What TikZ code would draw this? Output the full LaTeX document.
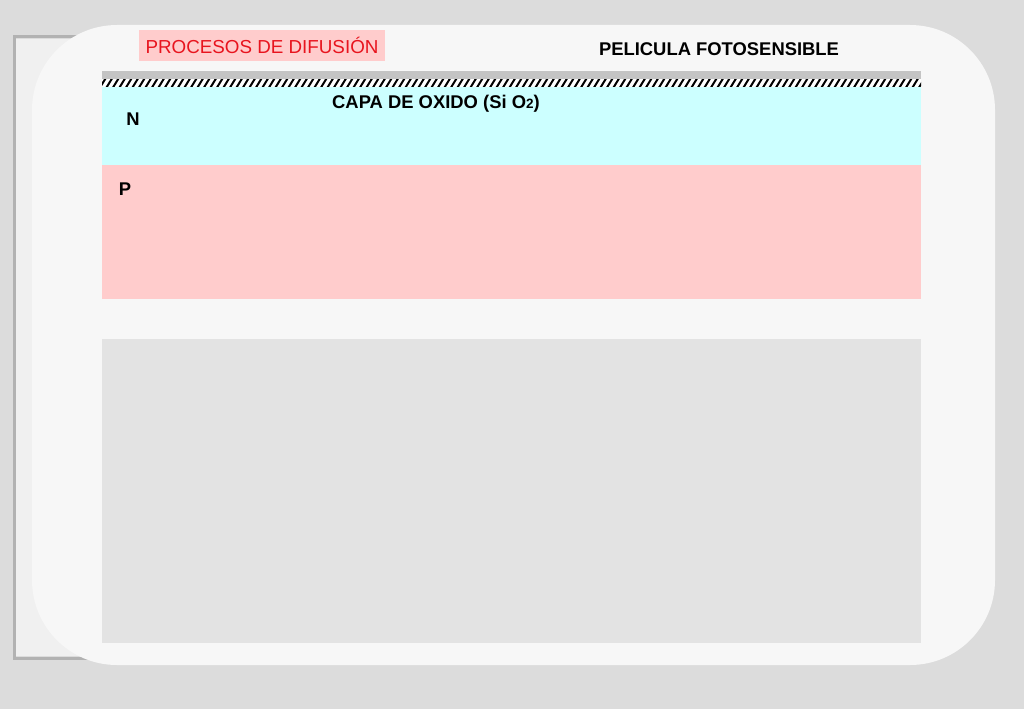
\documentclass[tikz,border=0pt]{standalone}
\usepackage{fontspec}
\setmainfont{Liberation Sans}
\definecolor{bgc}{HTML}{DCDCDC}
\definecolor{panel}{HTML}{F7F7F7}
\definecolor{cyanl}{HTML}{CCFFFF}
\definecolor{pinkl}{HTML}{FFCCCC}
\definecolor{greyl}{HTML}{E3E3E3}
\definecolor{filmg}{HTML}{C4C4C4}
\definecolor{redt}{HTML}{E8141E}
\tikzset{
  lbl/.style={font=\fontsize{18.4}{20}\selectfont\bfseries, inner sep=0pt},
}
\begin{document}
\begin{tikzpicture}[x=1pt,y=-1pt]
\useasboundingbox (0,0) rectangle (1024,709);
% background (photo texture approximated)
\fill[bgc] (0,0) rectangle (1024,709);
\draw[black!30, line width=3pt] (14,37) rectangle (452,658);
\fill[black!6] (16,39) rectangle (450,656);
% rounded panel
\fill[panel, rounded corners=85pt] (32,25) rectangle (995,665);
% layers
\fill[filmg] (102,71) rectangle (921,79);
\fill[white] (102,79) rectangle (921,87);
\begin{scope}
\clip (102,79) rectangle (921,87);
\foreach \x in {100,106.5,...,930} {
  \draw[black, line width=2pt] (\x,87.5) -- (\x+5.5,78.5);
}
\end{scope}
\fill[cyanl] (102,87) rectangle (921,165);
\fill[pinkl] (102,165) rectangle (921,299);
\fill[greyl] (102,339) rectangle (921,643);
% title box
\node[fill=pinkl, minimum width=246pt, minimum height=31pt, inner sep=0pt,
      font=\fontsize{18.8}{20}\selectfont, text=redt] (title) at (262,45.5) {PROCESOS DE DIFUSIÓN};
\node[lbl] (film) at (719,49) {PELICULA FOTOSENSIBLE};
\node[lbl, anchor=west] (oxide) at (332,104) {CAPA DE OXIDO (Si O{\fontsize{13.5}{14}\selectfont 2})};
\node[lbl] (n) at (133,119) {N};
\node[lbl] (p) at (125,189) {P};
\end{tikzpicture}
\end{document}
